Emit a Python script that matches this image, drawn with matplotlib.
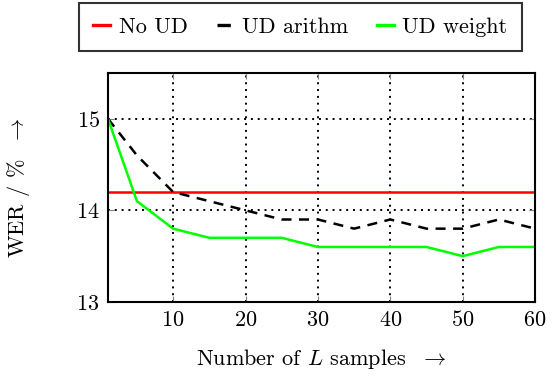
import matplotlib
matplotlib.use("Agg")
import matplotlib.pyplot as plt

plt.rcParams["font.family"] = "serif"
plt.rcParams["font.serif"] = ["cmr10", "DejaVu Serif"]
plt.rcParams["mathtext.fontset"] = "cm"
plt.rcParams["axes.formatter.use_mathtext"] = True

# data
samples = [1, 5, 10, 15, 20, 25, 30, 35, 40, 45, 50, 55, 60]
no_ud = [14.2] * len(samples)
ud_arithm = [15.0, 14.6, 14.2, 14.1, 14.0, 13.9, 13.9, 13.8, 13.9, 13.8, 13.8, 13.9, 13.8]
ud_weight = [15.0, 14.1, 13.8, 13.7, 13.7, 13.7, 13.6, 13.6, 13.6, 13.6, 13.5, 13.6, 13.6]

x_ticks = [10, 20, 30, 40, 50, 60]
y_ticks = [13, 14, 15]

fig = plt.figure(figsize=(5.58, 3.76), dpi=100)
ax = fig.add_axes([0.1935, 0.197, 0.7655, 0.609])

ax.plot(samples, no_ud, color="#ff0000", lw=1.8, label="No UD")
ax.plot(samples, ud_arithm, color="black", lw=1.8, dashes=(4, 3), label="UD arithm")
ax.plot(samples, ud_weight, color="#00ff00", lw=1.8, label="UD weight")

ax.set_xlim(1, 60)
ax.set_ylim(13, 15.5)
ax.set_xticks(x_ticks)
ax.set_yticks(y_ticks)
ax.grid(True, color="black", linestyle=(0, (1, 2.5)), linewidth=1.4)
ax.tick_params(direction="in", top=True, right=True, length=4, color="grey",
               labelsize=16, pad=6)
for sp in ax.spines.values():
    sp.set_linewidth(1.5)

ax.set_xlabel(r"Number of $L$ samples  $\rightarrow$", fontsize=16, labelpad=12)
ax.set_ylabel(r"WER / %  $\rightarrow$", fontsize=16)
ax.yaxis.set_label_coords(-0.178, 0.5)

leg = fig.legend(loc="lower left", bbox_to_anchor=(0.1416, 0.864, 0.794, 0.130),
                 mode="expand", ncol=3, fontsize=16, frameon=True, fancybox=False,
                 handlelength=0.75, handletextpad=0.4, borderaxespad=0.0,
                 columnspacing=1.4, borderpad=0.65)
leg.get_frame().set_edgecolor("black")
leg.get_frame().set_linewidth(1.5)
for line in leg.get_lines():
    line.set_linewidth(2.4)

fig.savefig("out.png", dpi=100)
